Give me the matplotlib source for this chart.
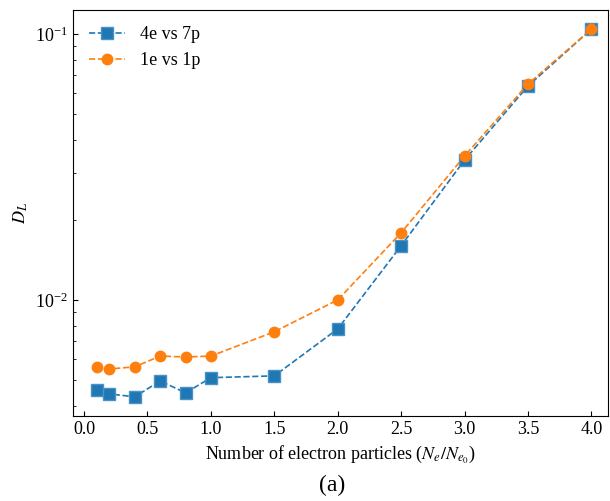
import matplotlib.pyplot as plt

plt.rcParams["font.family"] = ["Liberation Serif", "DejaVu Serif"]
plt.rcParams["mathtext.fontset"] = "stix"

# particle ratio N_e / N_e0
ratio = [0.1, 0.2, 0.4, 0.6, 0.8, 1.0, 1.5, 2.0, 2.5, 3.0, 3.5, 4.0]
d_4e7p = [0.00459, 0.00443, 0.00432, 0.00496, 0.00447, 0.0051, 0.00518,
          0.00778, 0.0160, 0.0336, 0.0638, 0.1044]
d_1e1p = [0.0056, 0.0055, 0.0056, 0.00615, 0.0061, 0.00615, 0.00759,
          0.0100, 0.0179, 0.0348, 0.0649, 0.1044]

fig = plt.figure(figsize=(6.1, 5.01), dpi=100)
ax = fig.add_axes([0.1197, 0.1697, 0.877, 0.8103])

ax.plot(ratio, d_4e7p, "s--", color="#1f77b4", mec="#4a92c6", mew=1.0,
        ms=8.5, lw=1.2, label="4e vs 7p")
ax.plot(ratio, d_1e1p, "o--", color="#ff7f0e", mec="#ff7f0e",
        ms=7.5, lw=1.2, label="1e vs 1p")

ax.set_yscale("log")
ax.set_xlim(-0.087, 4.13)
ax.set_ylim(0.00366, 0.1231)
ax.set_xticks([0.0, 0.5, 1.0, 1.5, 2.0, 2.5, 3.0, 3.5, 4.0])
ax.tick_params(which="both", direction="in", labelsize=13)
ax.set_xlabel(r"Number of electron particles ($N_e/N_{e_0}$)", fontsize=13)
ax.set_ylabel(r"$D_L$", fontsize=13)
ax.legend(loc="upper left", frameon=False, fontsize=13)

fig.text(0.545, 0.02, "(a)", ha="center", fontsize=17)

fig.savefig("out.png", dpi=100)
